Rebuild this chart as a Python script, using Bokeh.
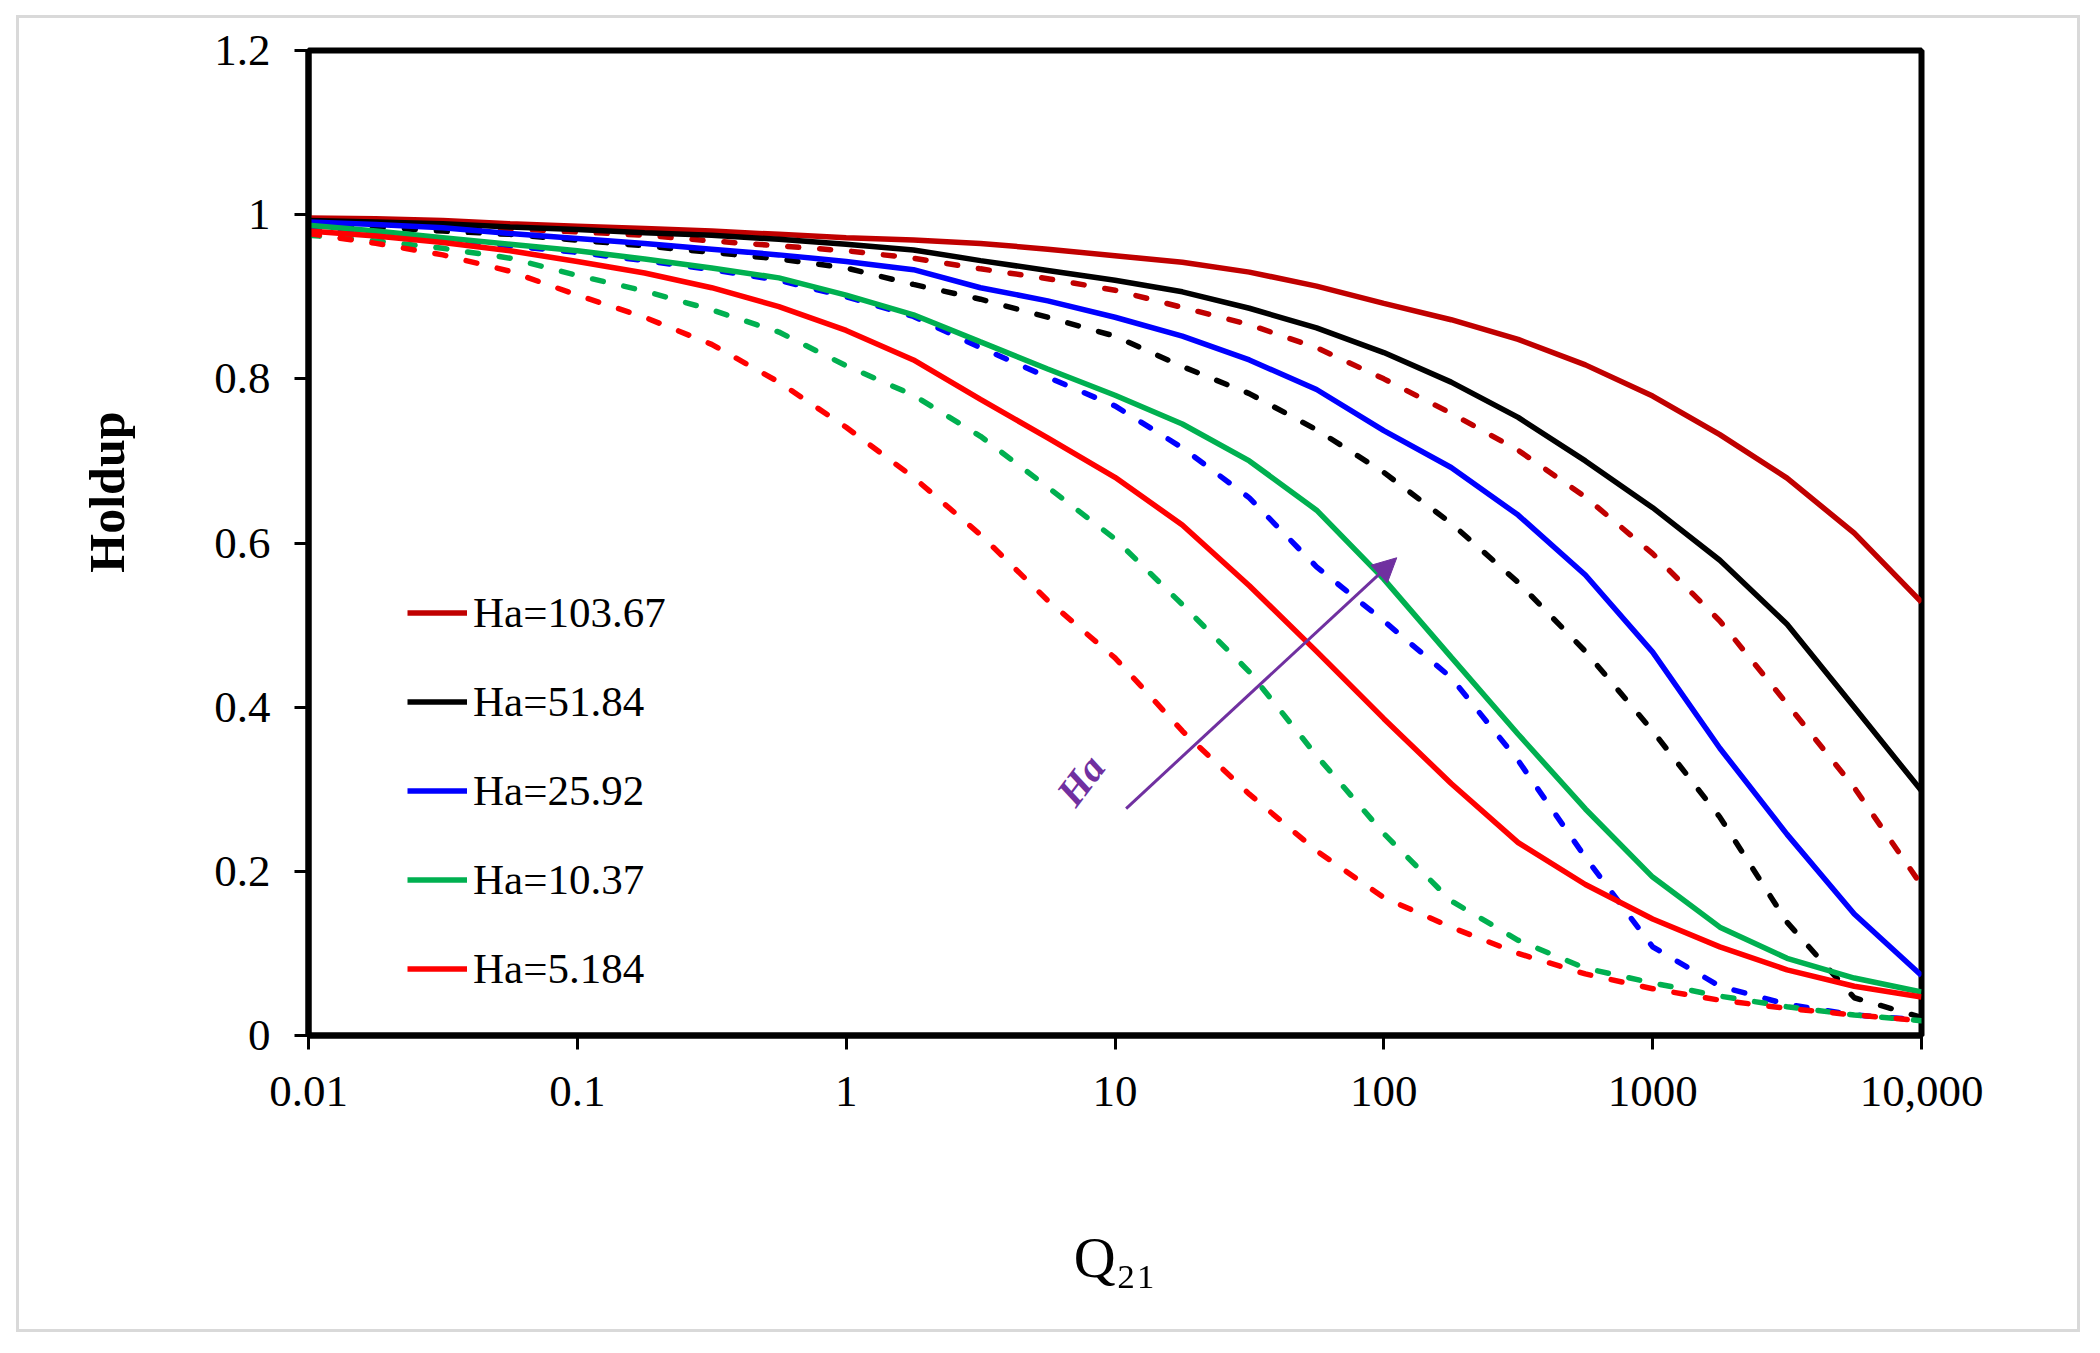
from bokeh.plotting import figure
from bokeh.models import (Range1d, FixedTicker, Legend, LegendItem, Label, Title,
                          Arrow, NormalHead, ColumnDataSource)
from bokeh.embed import file_html
from bokeh.resources import INLINE

# Q21 values (quarter decades) where the curves were read
q21 = [0.01, 0.0178, 0.0316, 0.0562, 0.1, 0.178, 0.316, 0.562, 1, 1.78, 3.16, 5.62,
       10, 17.8, 31.6, 56.2, 100, 178, 316, 562, 1000, 1778, 3162, 5623, 10000]

# holdup, solid curves
ha103_solid = [0.996, 0.995, 0.993, 0.989, 0.986, 0.983, 0.980, 0.976, 0.972, 0.969, 0.965, 0.958,
               0.950, 0.942, 0.930, 0.913, 0.892, 0.872, 0.848, 0.817, 0.779, 0.732, 0.679, 0.612, 0.528]
ha51_solid = [0.993, 0.991, 0.989, 0.985, 0.982, 0.978, 0.975, 0.970, 0.964, 0.957, 0.944, 0.932,
              0.920, 0.906, 0.886, 0.862, 0.832, 0.796, 0.753, 0.700, 0.643, 0.579, 0.501, 0.400, 0.298]
ha25_solid = [0.991, 0.988, 0.984, 0.977, 0.971, 0.965, 0.958, 0.951, 0.943, 0.933, 0.911, 0.895,
              0.875, 0.852, 0.823, 0.787, 0.737, 0.692, 0.634, 0.561, 0.467, 0.350, 0.245, 0.148, 0.073]
ha10_solid = [0.987, 0.980, 0.972, 0.964, 0.956, 0.946, 0.935, 0.923, 0.902, 0.878, 0.845, 0.812,
              0.780, 0.745, 0.700, 0.640, 0.556, 0.461, 0.367, 0.276, 0.193, 0.132, 0.094, 0.070, 0.053]
ha5_solid = [0.980, 0.974, 0.966, 0.956, 0.943, 0.929, 0.911, 0.888, 0.859, 0.823, 0.775, 0.728,
             0.680, 0.622, 0.548, 0.468, 0.386, 0.307, 0.235, 0.184, 0.142, 0.108, 0.080, 0.060, 0.047]

# holdup, dashed curves
ha103_dash = [0.992, 0.990, 0.987, 0.983, 0.979, 0.975, 0.968, 0.962, 0.956, 0.947, 0.934, 0.922,
              0.908, 0.887, 0.866, 0.838, 0.800, 0.758, 0.713, 0.656, 0.587, 0.505, 0.404, 0.302, 0.183]
ha51_dash = [0.989, 0.985, 0.980, 0.976, 0.969, 0.962, 0.954, 0.946, 0.935, 0.915, 0.897, 0.875,
             0.852, 0.815, 0.782, 0.738, 0.686, 0.624, 0.552, 0.468, 0.371, 0.266, 0.138, 0.046, 0.022]
ha25_dash = [0.984, 0.978, 0.971, 0.962, 0.954, 0.944, 0.933, 0.920, 0.900, 0.876, 0.838, 0.802,
             0.767, 0.716, 0.655, 0.571, 0.505, 0.436, 0.335, 0.217, 0.108, 0.060, 0.038, 0.025, 0.019]
ha10_dash = [0.975, 0.968, 0.959, 0.947, 0.926, 0.907, 0.884, 0.857, 0.816, 0.780, 0.730, 0.668,
             0.605, 0.525, 0.443, 0.341, 0.246, 0.164, 0.116, 0.082, 0.064, 0.048, 0.035, 0.025, 0.018]
ha5_dash = [0.977, 0.965, 0.951, 0.931, 0.902, 0.875, 0.842, 0.796, 0.741, 0.680, 0.610, 0.530,
            0.460, 0.371, 0.294, 0.225, 0.168, 0.132, 0.100, 0.075, 0.057, 0.043, 0.033, 0.025, 0.018]

labels = ["Ha=103.67", "Ha=51.84", "Ha=25.92", "Ha=10.37", "Ha=5.184"]
colors = ["#C00000", "#000000", "#0000FF", "#00B050", "#FF0000"]
solid = [ha103_solid, ha51_solid, ha25_solid, ha10_solid, ha5_solid]
dashed = [ha103_dash, ha51_dash, ha25_dash, ha10_dash, ha5_dash]

x_ticks = [0.01, 0.1, 1, 10, 100, 1000, 10000]
x_tick_text = ["0.01", "0.1", "1", "10", "100", "1000", "10,000"]
y_ticks = [0, 0.2, 0.4, 0.6, 0.8, 1, 1.2]
y_tick_text = ["0", "0.2", "0.4", "0.6", "0.8", "1", "1.2"]

FONT = "Liberation Serif"
PURPLE = "#7030A0"

p = figure(width=2100, height=1353, x_axis_type="log",
           x_range=Range1d(0.01, 10000), y_range=Range1d(0, 1.2),
           output_backend="svg", toolbar_location=None,
           min_border_left=308, min_border_right=179,
           min_border_top=50, min_border_bottom=318)
p.grid.visible = False
p.outline_line_color = "black"
p.outline_line_width = 6
p.background_fill_color = "white"
p.border_fill_alpha = 0
# thin grey frame around the whole picture
p.styles = {"box-shadow": "inset -2px -3px 0 18px #ffffff, inset -2px -3px 0 21px #d9d9d9",
            "background-color": "#ffffff"}

for ax in (p.xaxis[0], p.yaxis[0]):
    ax.axis_line_width = 6
    ax.major_tick_in = 0
    ax.major_tick_out = 14
    ax.major_tick_line_width = 3
    ax.minor_tick_line_color = None
    ax.major_label_text_font = FONT
    ax.major_label_text_font_size = "45px"
    ax.major_label_text_color = "black"

p.xaxis.ticker = FixedTicker(ticks=x_ticks, minor_ticks=[])
p.xaxis.major_label_overrides = dict(zip(x_ticks, x_tick_text))
p.xaxis.major_label_standoff = 27
p.xaxis.axis_label = "Q\u2082\u2081"
p.xaxis.axis_label_text_font = FONT
p.xaxis.axis_label_text_font_size = "58px"
p.xaxis.axis_label_text_font_style = "normal"
p.xaxis.axis_label_text_color = "black"
p.xaxis.axis_label_standoff = 116

p.yaxis.ticker = FixedTicker(ticks=y_ticks, minor_ticks=[])
p.yaxis.major_label_overrides = dict(zip(y_ticks, y_tick_text))
p.yaxis.major_label_standoff = 24

p.add_layout(Title(text="Holdup", align="right", offset=361, vertical_align="top",
                   standoff=150, text_font=FONT, text_font_size="50px",
                   text_font_style="bold", text_color="black"), "left")

items = []
for lab, col, ys, yd in zip(labels, colors, solid, dashed):
    src_d = ColumnDataSource(dict(x=q21, y=yd))
    p.line("x", "y", source=src_d, line_color=col, line_width=5.5,
           line_dash="11 21", line_cap="round")
for lab, col, ys, yd in zip(labels, colors, solid, dashed):
    src_s = ColumnDataSource(dict(x=q21, y=ys))
    r = p.line("x", "y", source=src_s, line_color=col, line_width=5.5)
    items.append(LegendItem(label=lab, renderers=[r]))

legend = Legend(items=items, location=(99, 22), glyph_width=60, glyph_height=89,
                label_height=89, spacing=0, padding=0, margin=0, label_standoff=6,
                label_text_font=FONT, label_text_font_size="43px", label_text_color="black",
                border_line_alpha=0, background_fill_alpha=0)
p.add_layout(legend)

# arrow showing increasing Ha
p.add_layout(Arrow(x_start=11.0, y_start=0.2765, x_end=111.7, y_end=0.582,
                   line_color=PURPLE, line_width=3,
                   end=NormalHead(size=24, fill_color=PURPLE, line_color=PURPLE)))
p.add_layout(Label(x=7.45, y=0.311, text="Ha", angle=0.92, text_align="center",
                   text_baseline="middle", text_font=FONT, text_font_size="40px",
                   text_font_style="bold italic", text_color=PURPLE))

open("out.html", "w").write(file_html(p, INLINE))
